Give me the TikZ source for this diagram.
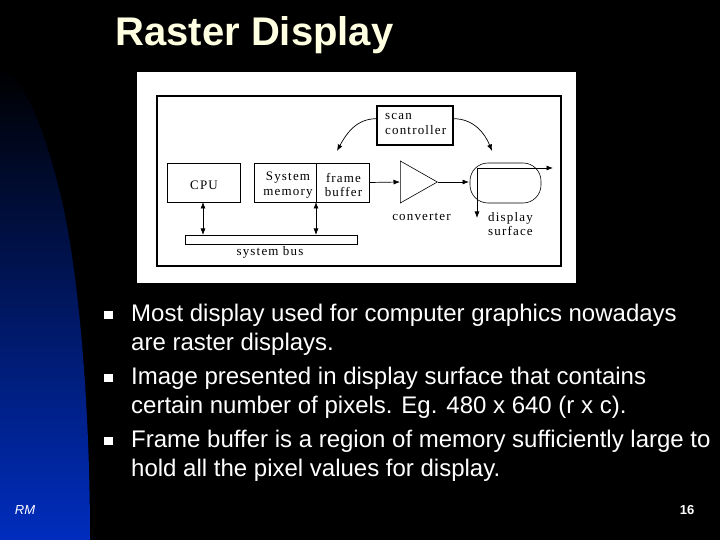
\documentclass[tikz,border=0pt]{standalone}
\usepackage{fontspec}
\setmainfont{Liberation Sans}
\newfontfamily\figfont[LetterSpace=9]{Liberation Serif}
\usetikzlibrary{arrows.meta,shapes.geometric}
\definecolor{slideblue}{RGB}{0,45,190}
\definecolor{slidemid}{RGB}{0,30,130}
\definecolor{titlecream}{RGB}{255,255,225}

\begin{document}
\begin{tikzpicture}
        [
        x = 1pt,
        y = -1pt,
        >= {Latex[length = 6.5pt, width = 5pt]},
        box/.style = {
            draw, rectangle,
            line width = 0.8pt,
            inner sep = 0pt,
        },
        caption/.style = {
            inner sep = 0pt,
            align = center,
            font = \figfont\fontsize{13}{14.5}\selectfont,
        },
        bullet/.style = {
            fill = white,
            inner sep = 0pt,
            minimum size = 8.5pt,
        },
        bodytext/.style = {
            anchor = north west,
            inner sep = 0pt,
            align = left,
            text = white,
            font = \fontsize{24}{29}\selectfont,
        },
        ]
        \useasboundingbox (0,0) rectangle (720,540);
        \fill[black] (0,0) rectangle (720,540);

        % Achtergrond
        \shade[top color = black, middle color = slidemid, bottom color = slideblue]
            (0,540) -- (0,68) .. controls (22,72) and (45,130) .. (60,193)
            .. controls (78,265) and (90,400) .. (90,540) -- cycle;

        % Titel en tekst
        \node[text = titlecream, font = \bfseries\fontsize{40}{44}\selectfont] (title) at (254.5,35) {Raster Display};

        \node[bullet] (bullet_a) at (108.5,315) {};
        \node[bullet] (bullet_b) at (108.5,378) {};
        \node[bullet] (bullet_c) at (108.5,441) {};
        \node[bodytext] (text_a) at (131,304) {Most display used for computer graphics nowadays \\ are raster displays.};
        \node[bodytext] (text_b) at (131,367) {Image presented in display surface that contains \\ certain number of pixels. Eg. 480 x 640 (r x c).};
        \node[bodytext] (text_c) at (131,430) {Frame buffer is a region of memory sufficiently large to \\ hold all the pixel values for display.};

        \node[text = white, font = \itshape\fontsize{13}{15}\selectfont] (footer) at (25,510) {RM};
        \node[text = white, font = \bfseries\fontsize{13}{15}\selectfont] (page) at (687,510) {16};

        % Figuur
        \node[fill = white, minimum width = 439pt, minimum height = 211pt, inner sep = 0pt] (panel) at (356.5,177.5) {};
        \node[draw, line width = 1.1pt, minimum width = 404pt, minimum height = 170pt, inner sep = 0pt] (frame) at (359,181) {};

        \node[box, minimum width = 76pt, minimum height = 39pt, line width = 1.1pt] (scan) at (415,125.5) {};
        \node[box, minimum width = 73pt, minimum height = 39pt] (cpu) at (203.5,182.5) {};
        \node[box, minimum width = 62pt, minimum height = 39pt] (memory) at (285,182.5) {};
        \node[box, minimum width = 53pt, minimum height = 39pt] (buffer) at (342.5,182.5) {};
        \node[draw, isosceles triangle, isosceles triangle stretches, line width = 0.6pt,
            minimum width = 42pt, minimum height = 37pt, inner sep = 0pt, anchor = west] (converter) at (400,182) {};
        \node[draw, rounded corners = 18pt, line width = 0.6pt, minimum width = 71pt, minimum height = 40pt, inner sep = 0pt] (display) at (505.5,183) {};
        \node[box, minimum width = 172pt, minimum height = 9pt, line width = 0.6pt] (bus) at (271,239.5) {};

        \node[caption, align = left, anchor = west] (scan_text) at (385,124) {scan \\ controller};
        \node[caption] (cpu_text) at (204,185) {CPU};
        \node[caption] (memory_text) at (288,185) {System \\ memory};
        \node[caption] (buffer_text) at (343.5,185) {frame \\ buffer};
        \node[caption] (converter_text) at (421.5,217) {converter};
        \node[caption] (display_text) at (510.5,224) {display \\ surface};
        \node[caption] (bus_text) at (270,252) {system bus};

        \coordinate (scan_left) at (337,151);
        \coordinate (scan_right) at (492,151);
        \coordinate (beam_corner) at (477,168);
        \coordinate (beam_right) at (553,168);
        \coordinate (beam_down) at (477,218);
        \coordinate (cpu_port) at (203,202);
        \coordinate (cpu_bus) at (203,235);
        \coordinate (memory_port) at (316,202);
        \coordinate (memory_bus) at (316,235);
        \coordinate (display_port) at (469,182);

        % Verbindingen
        \path
            [
            ->,
            line width = 0.7pt,
            ]
            (scan.170) edge[out = 180, in = 62] (scan_left)
            (scan.10) edge[out = 0, in = 112] (scan_right)
            (buffer.east) edge (converter.west)
            (converter.east) edge (display_port)
            (beam_corner) edge (beam_right)
            (beam_corner) edge (beam_down);

        \path
            [
            <->,
            line width = 0.7pt,
            ]
            (cpu_port) edge (cpu_bus)
            (memory_port) edge (memory_bus);
    \end{tikzpicture}
\end{document}
